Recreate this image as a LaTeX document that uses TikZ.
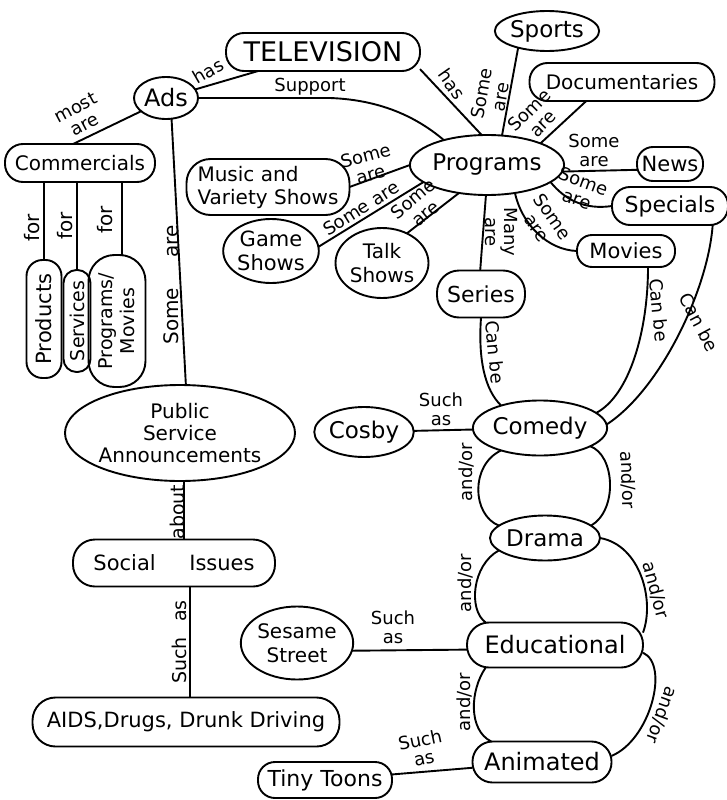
\documentclass[tikz,border=0pt]{standalone}
\usepackage{fontspec}
\setmainfont{DejaVu Sans}
\usetikzlibrary{shapes.geometric}
\newcommand{\fsz}[2]{\fontsize{#1}{#2}\selectfont}
\begin{document}
\begin{tikzpicture}[x=1pt,y=-1pt,
  every node/.style={inner sep=0pt, outer sep=0pt},
  pill/.style={draw, rectangle, rounded corners=#1, line width=1.9pt, align=center, font=\fsz{22}{25}},
  pill/.default=17pt,
  ovl/.style={draw, ellipse, line width=1.9pt, align=center, font=\fsz{22}{25}},
  lab/.style={align=center, font=\fsz{18}{19}},
  conn/.style={line width=1.9pt}]
\useasboundingbox (0,0) rectangle (727,800);

% ---------- nodes ----------
\node[pill=18pt, minimum width=194pt, minimum height=38pt, font=\fsz{27}{30}] (tv) at (323,52) {TELEVISION};
\node[ovl, minimum width=64pt, minimum height=42pt, font=\fsz{24}{26}] (ads) at (166,98) {Ads};
\node[pill=18pt, minimum width=150pt, minimum height=38pt, font=\fsz{20}{22}] (comm) at (80,163) {Commercials};
\node[pill=16pt, rotate=90, minimum width=118pt, minimum height=35pt, font=\fsz{21}{22}] (prod) at (44,319) {Products};
\node[pill=13pt, rotate=90, minimum width=102pt, minimum height=27pt, font=\fsz{19}{20}] (serv) at (77,321) {Services};
\node[pill=26pt, rotate=90, minimum width=132pt, minimum height=57pt, font=\fsz{19}{22}] (pm) at (117,321) {Programs/\\Movies};
\node[ovl, minimum width=214pt, minimum height=96pt, font=\fsz{20}{22}] (psa) at (180,433) {Public\\Service\\Announcements};
\node[pill=22pt, minimum width=202pt, minimum height=47pt, font=\fsz{21}{24}] (soc) at (174,563) {Social\hspace{1.6em}Issues};
\node[pill=23pt, minimum width=307pt, minimum height=49pt, font=\fsz{21}{24}] (aids) at (186,722) {AIDS,Drugs, Drunk Driving};

\node[pill=24pt, minimum width=163pt, minimum height=56pt, align=left, font=\fsz{20}{23}] (music) at (268,187) {Music and\\Variety Shows};
\node[ovl, minimum width=95pt, minimum height=64pt, font=\fsz{21}{24}] (game) at (271,251) {Game\\Shows};
\node[ovl, minimum width=93pt, minimum height=70pt, font=\fsz{20}{24}] (talk) at (382,263) {Talk\\Shows};
\node[ovl, minimum width=133pt, minimum height=60pt, font=\fsz{23}{25}] (prog) at (487,165) {Programs};
\node[ovl, minimum width=97pt, minimum height=40pt, font=\fsz{23}{25}] (sports) at (547,31) {Sports};
\node[pill=18pt, minimum width=185pt, minimum height=38pt, font=\fsz{20}{22}] (docs) at (622,82) {Documentaries};
\node[pill=16pt, minimum width=66pt, minimum height=34pt, font=\fsz{21}{22}] (news) at (670,164) {News};
\node[pill=18pt, minimum width=116pt, minimum height=38pt, font=\fsz{22}{24}] (spec) at (670,206) {Specials};
\node[pill=15pt, minimum width=98pt, minimum height=32pt, font=\fsz{21}{22}] (movies) at (626,251) {Movies};
\node[pill=22pt, minimum width=88pt, minimum height=47pt, font=\fsz{22}{24}] (series) at (481,294) {Series};

\node[ovl, minimum width=113pt, minimum height=55pt, font=\fsz{23}{25}] (comedy) at (540,428) {Comedy};
\node[ovl, minimum width=92pt, minimum height=50pt, font=\fsz{23}{25}] (cosby) at (364,432) {Cosby};
\node[ovl, minimum width=110pt, minimum height=45pt, font=\fsz{23}{25}] (drama) at (545,538) {Drama};
\node[pill=22pt, minimum width=176pt, minimum height=45pt, font=\fsz{24}{26}] (edu) at (555,645) {Educational};
\node[pill=20pt, minimum width=139pt, minimum height=41pt, font=\fsz{24}{26}] (anim) at (542,762) {Animated};
\node[pill=17pt, minimum width=134pt, minimum height=36pt, font=\fsz{22}{24}] (tiny) at (325,780) {Tiny Toons};
\node[ovl, minimum width=110pt, minimum height=73pt, font=\fsz{20}{24}] (sesame) at (297,643) {Sesame\\Street};

% ---------- connectors ----------
\coordinate (supbend) at (330,98);
\draw[conn] (ads) -- (tv);
\draw[conn] (tv.-10) -- (prog.100);
\draw[conn] (ads.east) -- (supbend) .. controls (385,100) and (420,120) .. (prog.150);
\draw[conn] (ads.208) -- (comm.110);
\draw[conn] (prod.east) -- (prod.east |- comm.south);
\draw[conn] (serv.east) -- (serv.east |- comm.south);
\draw[conn] ([xshift=5pt]pm.east) -- ([xshift=5pt]pm.east |- comm.south);
\draw[conn] (ads.-75) -- (psa.83);
\draw[conn] (psa.-85) -- (psa.-85 |- soc.north);
\draw[conn] ([xshift=16pt]soc.south) -- ([xshift=16pt]soc.south |- aids.north);

\draw[conn] (prog.63) -- (sports.210);
\draw[conn] (prog.22) -- (docs.208);
\draw[conn] (prog.-5) -- (news.190);
\draw[conn] (prog.-15) .. controls (565,200) and (585,210) .. (spec.west);
\draw[conn] (prog.-45) .. controls (522,225) and (548,250) .. (movies.west);
\draw[conn] (prog.-92) -- (series.92);
\draw[conn] (music.east) -- (prog.west);
\draw[conn] (game.5) -- (prog.195);
\draw[conn] (talk.50) -- (prog.225);

\draw[conn] (series.south) .. controls (478,360) and (485,390) .. (comedy.150);
\draw[conn] (movies.-36) .. controls (648,330) and (630,395) .. (comedy.15);
\draw[conn] (spec.-24) .. controls (708,290) and (660,390) .. (comedy.3);
\draw[conn] (cosby) -- (comedy);

\draw[conn] (comedy.210) .. controls (470,465) and (472,515) .. (drama.165);
\draw[conn] (comedy.-20) .. controls (615,455) and (618,510) .. (drama.15);
\draw[conn] (drama.195) .. controls (472,565) and (468,610) .. (edu.162);
\draw[conn] (drama.0) .. controls (640,545) and (655,600) .. (edu.8);
\draw[conn] (edu.198) .. controls (470,690) and (468,730) .. (anim.158);
\draw[conn] (edu.-5) .. controls (670,665) and (650,740) .. (anim.5);
\draw[conn] (sesame.-8) -- (edu.183);
\draw[conn] (tiny) -- (anim);

% ---------- labels ----------
\node[lab, rotate=30] (l1) at (208,71) {has};
\node[lab, rotate=-55] (l2) at (452,84) {has};
\node[lab] (l3) at (310,87) {Support};
\node[lab, rotate=28] (l4) at (80,116) {most\\are};
\node[lab, rotate=90, font=\fsz{20}{20}] (l5) at (32,228) {for};
\node[lab, rotate=90, font=\fsz{20}{20}] (l6) at (65,226) {for};
\node[lab, rotate=90, font=\fsz{20}{20}] (l7) at (105,220) {for};
\node[lab, rotate=90, font=\fsz{20}{20}] (l8) at (171,285) {Some\hspace{1.5em}are};
\node[lab, rotate=90, font=\fsz{19}{19}] (l9) at (177,512) {about};
\node[lab, rotate=90, font=\fsz{19}{19}] (l10) at (179,642) {Such\hspace{0.8em}as};
\node[lab, rotate=80] (l11) at (491,95) {Some\\are};
\node[lab, rotate=45] (l12) at (536,117) {Some\\are};
\node[lab] (l13) at (594,150) {Some\\are};
\node[lab, rotate=-20] (l14) at (580,190) {Some\\are};
\node[lab, rotate=-55] (l15) at (545,222) {Some\\are};
\node[lab, rotate=-90] (l16) at (501,232) {Many\\are};
\node[lab, rotate=-85] (l17) at (495,352) {Can be};
\node[lab, rotate=-85] (l18) at (659,310) {Can be};
\node[lab, rotate=-62] (l19) at (699,322) {Can be};
\node[lab] (l20) at (441,409) {Such\\as};
\node[lab, rotate=90] (l21) at (466,472) {and/or};
\node[lab, rotate=-88] (l22) at (628,480) {and/or};
\node[lab, rotate=90] (l23) at (465,583) {and/or};
\node[lab, rotate=-75] (l24) at (656,590) {and/or};
\node[lab, rotate=90] (l25) at (464,702) {and/or};
\node[lab, rotate=-110] (l26) at (662,715) {and/or};
\node[lab] (l27) at (393,627) {Such\\as};
\node[lab, rotate=12] (l28) at (422,749) {Such\\as};
\node[lab, rotate=15] (l29) at (368,165) {Some\\are};
\node[lab, rotate=32] (l30) at (361,208) {Some are};
\node[lab, rotate=40] (l31) at (419,206) {Some\\are};
\end{tikzpicture}
\end{document}
